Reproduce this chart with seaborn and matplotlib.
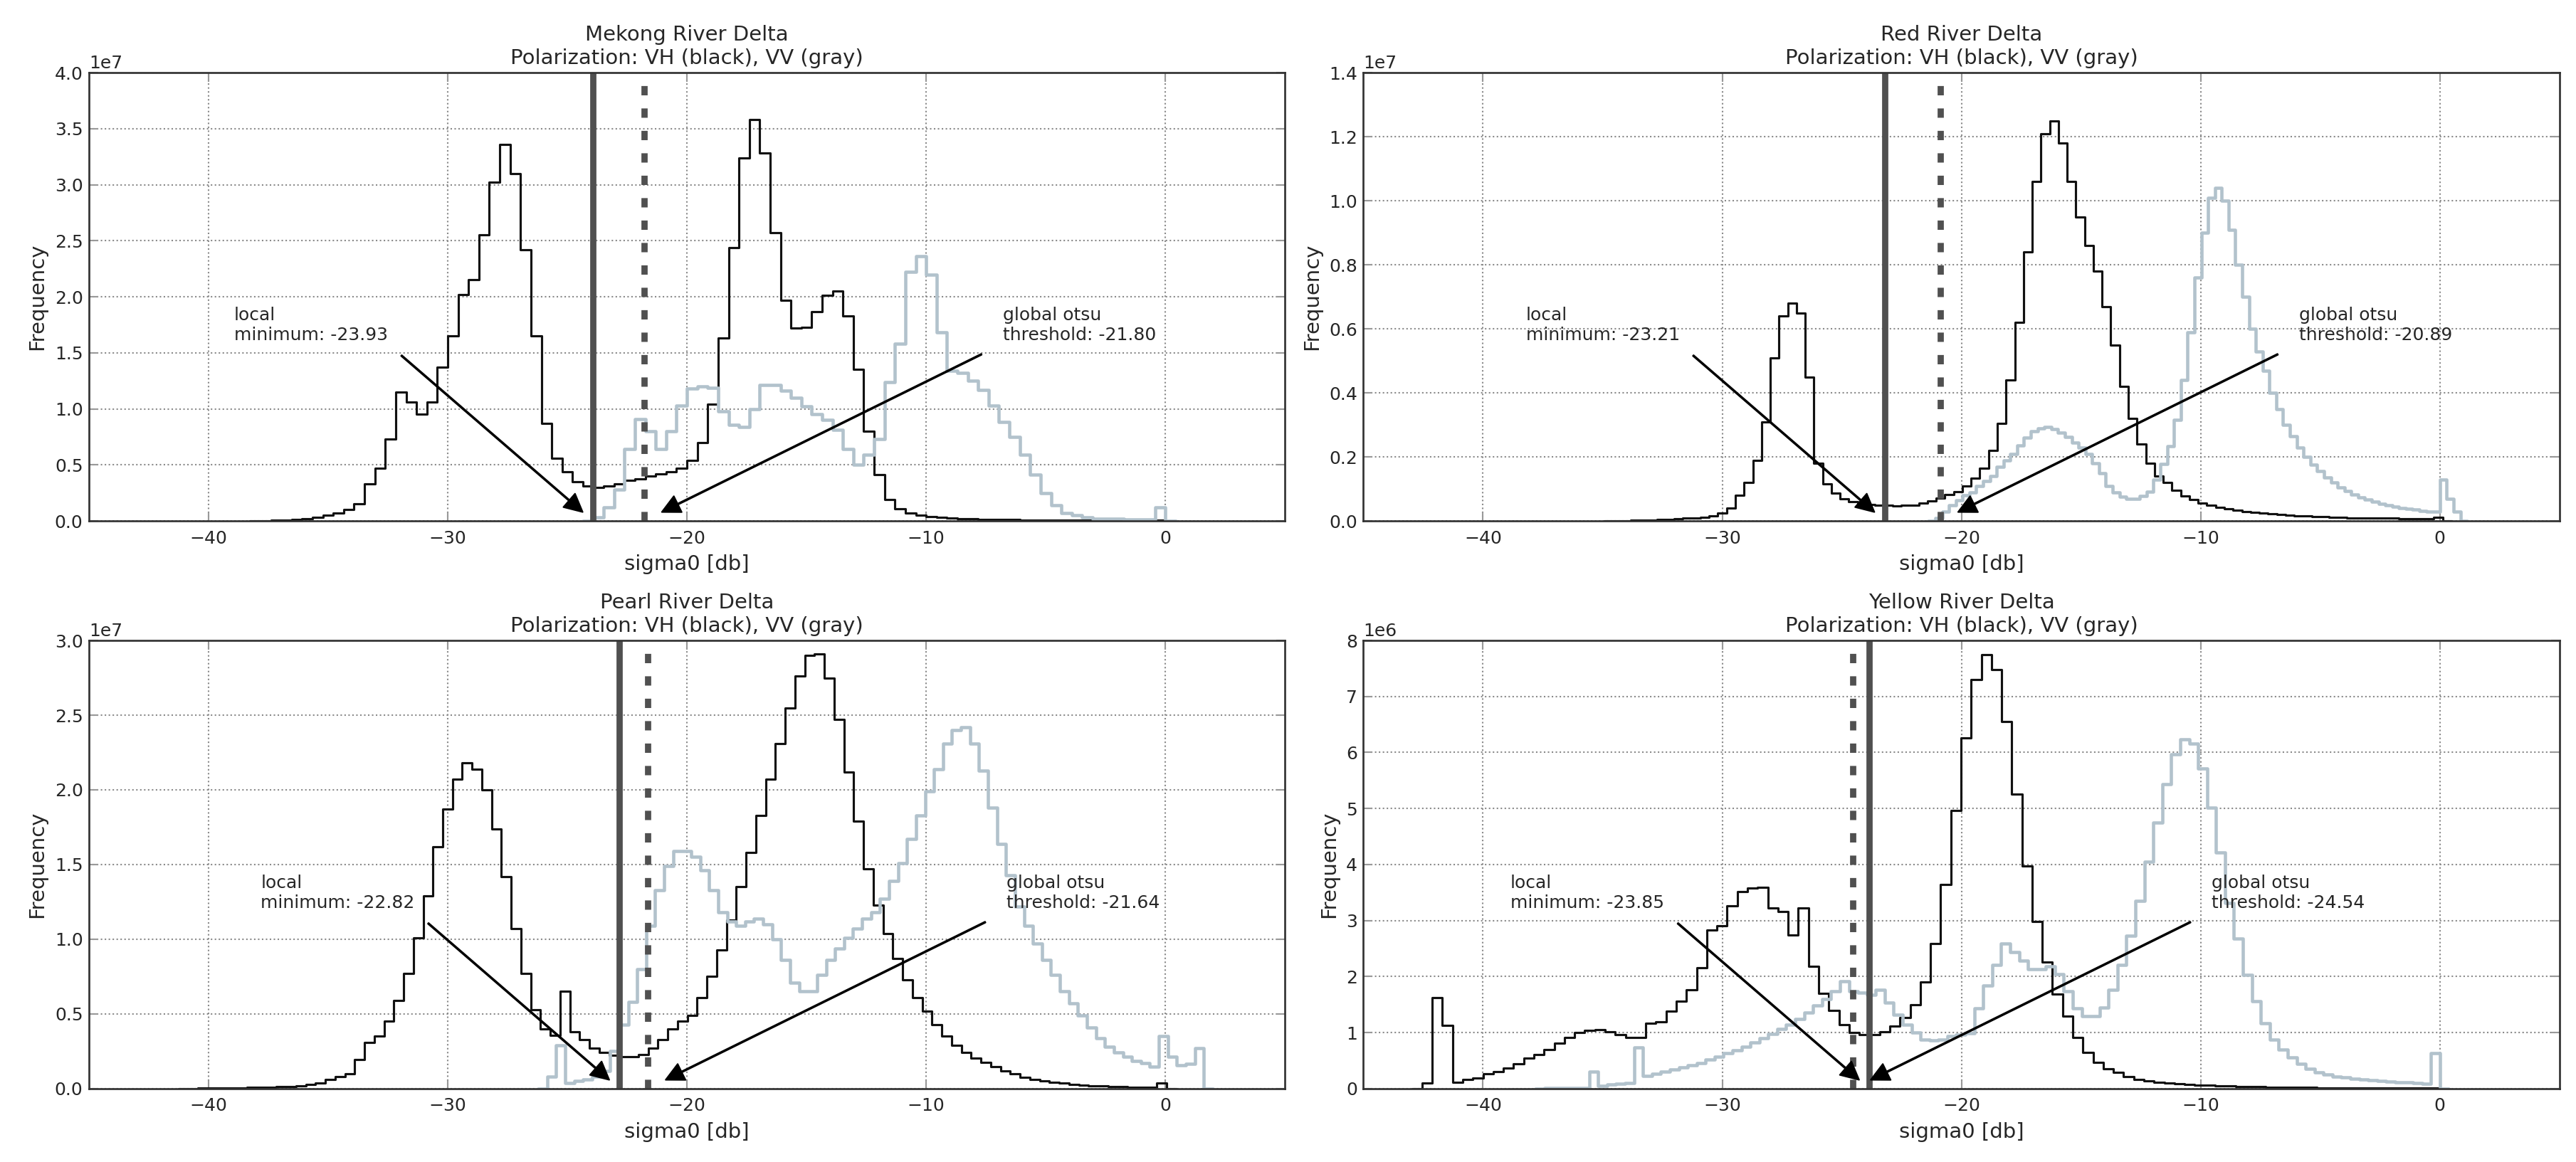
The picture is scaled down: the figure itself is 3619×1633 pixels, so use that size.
import numpy as np
import matplotlib
matplotlib.use("Agg")
import matplotlib.pyplot as plt
from matplotlib.ticker import MultipleLocator
import seaborn as sns

# ---------------- data (bin heights) ----------------
# Mekong River Delta (heights in units of 1e7)
mekong_scale = 1e7
mekong_vh_start, mekong_vh_width = -37.826, 0.43478
mekong_vh = [0.002, 0.004, 0.007, 0.01, 0.02, 0.03, 0.05, 0.07, 0.10, 0.15,
             0.33, 0.47, 0.73, 1.15, 1.06, 0.95, 1.06, 1.37, 1.65, 2.02,
             2.15, 2.55, 3.02, 3.36, 3.10, 2.42, 1.65, 0.87, 0.56, 0.44,
             0.35, 0.31, 0.30, 0.31, 0.33, 0.36, 0.375, 0.40, 0.42, 0.44,
             0.47, 0.54, 0.70, 1.04, 1.63, 2.44, 3.24, 3.58, 3.28, 2.57,
             1.97, 1.72, 1.73, 1.87, 2.01, 2.05, 1.83, 1.35, 0.80, 0.41,
             0.19, 0.11, 0.07, 0.05, 0.04, 0.03, 0.025, 0.02, 0.017, 0.015,
             0.013, 0.011, 0.01, 0.009, 0.008, 0.007, 0.006, 0.006, 0.005, 0.005,
             0.004, 0.004, 0.004, 0.003, 0.003, 0.003, 0.005]
mekong_vv_start, mekong_vv_width = -23.913, 0.43478
mekong_vv = [0.03, 0.12, 0.28, 0.64, 0.91, 0.80, 0.64, 0.80, 1.03, 1.18,
             1.20, 1.19, 0.98, 0.86, 0.84, 1.00, 1.21, 1.21, 1.16, 1.10,
             1.02, 0.95, 0.90, 0.81, 0.64, 0.50, 0.59, 0.73, 1.24, 1.58,
             2.22, 2.36, 2.20, 1.68, 1.34, 1.32, 1.25, 1.17, 1.03, 0.88,
             0.75, 0.59, 0.41, 0.25, 0.14, 0.07, 0.05, 0.03, 0.02, 0.02,
             0.02, 0.015, 0.01, 0.01, 0.12]
mekong_local_min, mekong_otsu = -23.93, -21.80

# Red River Delta (units of 1e7)
red_scale = 1e7
red_vh_start, red_vh_width = -34.56, 0.365
red_vh = [0.001, 0.001, 0.002, 0.002, 0.003, 0.004, 0.005, 0.006, 0.008, 0.010,
          0.012, 0.015, 0.024, 0.04, 0.08, 0.12, 0.19, 0.31, 0.51, 0.64,
          0.68, 0.65, 0.45, 0.18, 0.115, 0.087, 0.069, 0.06, 0.055, 0.051,
          0.049, 0.048, 0.047, 0.048, 0.05, 0.055, 0.063, 0.072, 0.083, 0.092,
          0.11, 0.133, 0.165, 0.22, 0.305, 0.44, 0.62, 0.84, 1.06, 1.21,
          1.25, 1.18, 1.06, 0.95, 0.86, 0.78, 0.67, 0.55, 0.42, 0.32,
          0.24, 0.18, 0.14, 0.12, 0.096, 0.078, 0.066, 0.055, 0.048, 0.042,
          0.037, 0.033, 0.030, 0.027, 0.024, 0.022, 0.020, 0.018, 0.016, 0.015,
          0.014, 0.013, 0.012, 0.011, 0.010, 0.010, 0.009, 0.009, 0.008, 0.008,
          0.007, 0.007, 0.006, 0.006, 0.012]
red_vv_start, red_vv_width = -21.09, 0.285
red_vv = [0.01, 0.03, 0.05, 0.065, 0.08, 0.09, 0.11, 0.125, 0.14, 0.17,
          0.19, 0.21, 0.235, 0.26, 0.28, 0.29, 0.294, 0.287, 0.276, 0.262,
          0.245, 0.23, 0.21, 0.18, 0.15, 0.11, 0.09, 0.075, 0.069, 0.069,
          0.078, 0.092, 0.128, 0.178, 0.233, 0.315, 0.44, 0.59, 0.76, 0.90,
          1.01, 1.04, 1.00, 0.91, 0.80, 0.70, 0.60, 0.53, 0.47, 0.40,
          0.35, 0.30, 0.265, 0.23, 0.20, 0.175, 0.155, 0.135, 0.12, 0.105,
          0.093, 0.083, 0.074, 0.066, 0.06, 0.054, 0.049, 0.045, 0.041, 0.038,
          0.035, 0.032, 0.03, 0.028, 0.13, 0.07, 0.03]
red_local_min, red_otsu = -23.21, -20.89

# Pearl River Delta (units of 1e7)
pearl_scale = 1e7
pearl_vh_start, pearl_vh_width = -40.842, 0.409
pearl_vh = [0.002, 0.003, 0.004, 0.005, 0.006, 0.006, 0.007, 0.008, 0.01, 0.012,
            0.015, 0.02, 0.03, 0.04, 0.06, 0.08, 0.10, 0.195, 0.31, 0.35,
            0.45, 0.59, 0.77, 1.01, 1.29, 1.62, 1.87, 2.07, 2.18, 2.14,
            2.00, 1.74, 1.42, 1.07, 0.77, 0.53, 0.40, 0.355, 0.65, 0.38,
            0.33, 0.27, 0.245, 0.225, 0.215, 0.215, 0.23, 0.27, 0.33, 0.40,
            0.45, 0.49, 0.61, 0.75, 0.93, 1.13, 1.35, 1.58, 1.83, 2.07,
            2.31, 2.55, 2.76, 2.90, 2.91, 2.75, 2.47, 2.12, 1.79, 1.47,
            1.23, 1.04, 0.87, 0.73, 0.61, 0.52, 0.43, 0.35, 0.29, 0.245,
            0.205, 0.175, 0.146, 0.117, 0.098, 0.078, 0.063, 0.052, 0.043, 0.036,
            0.03, 0.025, 0.021, 0.018, 0.015, 0.013, 0.011, 0.01, 0.009, 0.04]
pearl_vv_start, pearl_vv_width = -25.84, 0.376
pearl_vv = [0.08, 0.29, 0.04, 0.05, 0.06, 0.08, 0.12, 0.25, 0.43, 0.58,
            0.80, 1.09, 1.33, 1.49, 1.59, 1.59, 1.55, 1.46, 1.33, 1.18,
            1.12, 1.09, 1.12, 1.14, 1.10, 1.00, 0.86, 0.71, 0.65, 0.65,
            0.76, 0.86, 0.94, 1.01, 1.07, 1.14, 1.18, 1.27, 1.39, 1.51,
            1.67, 1.83, 1.99, 2.14, 2.31, 2.40, 2.42, 2.31, 2.13, 1.88,
            1.64, 1.43, 1.22, 1.09, 0.97, 0.86, 0.76, 0.65, 0.57, 0.49,
            0.41, 0.34, 0.28, 0.245, 0.215, 0.185, 0.17, 0.146, 0.35, 0.215,
            0.156, 0.166, 0.27]
pearl_local_min, pearl_otsu = -22.82, -21.64

# Yellow River Delta (units of 1e6)
yellow_scale = 1e6
yellow_vh_start, yellow_vh_width = -42.545, 0.425
yellow_vh = [0.10, 1.62, 1.13, 0.12, 0.16, 0.19, 0.26, 0.31, 0.37, 0.44,
             0.54, 0.61, 0.70, 0.81, 0.91, 1.00, 1.04, 1.05, 1.01, 0.96,
             0.91, 0.91, 1.17, 1.19, 1.38, 1.56, 1.77, 2.16, 2.83, 2.91,
             3.26, 3.52, 3.58, 3.59, 3.22, 3.16, 2.74, 3.23, 2.19, 1.70,
             1.40, 1.14, 1.00, 0.96, 0.96, 1.01, 1.12, 1.27, 1.50, 1.90,
             2.59, 3.64, 4.96, 6.26, 7.30, 7.74, 7.48, 6.55, 5.26, 3.98,
             2.99, 2.26, 1.69, 1.29, 0.91, 0.65, 0.47, 0.36, 0.29, 0.22,
             0.17, 0.14, 0.12, 0.10, 0.085, 0.075, 0.065, 0.057, 0.05, 0.044,
             0.04, 0.036, 0.032, 0.029, 0.026, 0.024, 0.022, 0.02, 0.018, 0.017,
             0.015, 0.014, 0.013, 0.012, 0.011, 0.01, 0.01, 0.009, 0.008, 0.008]
yellow_vv_start, yellow_vv_width = -37.43, 0.3743
yellow_vv = [0.01, 0.01, 0.01, 0.01, 0.01, 0.30, 0.05, 0.07, 0.09, 0.10,
             0.74, 0.23, 0.27, 0.30, 0.34, 0.38, 0.42, 0.46, 0.52, 0.57,
             0.63, 0.69, 0.75, 0.82, 0.90, 0.98, 1.06, 1.14, 1.25, 1.36,
             1.48, 1.60, 1.74, 1.92, 1.74, 1.72, 1.67, 1.76, 1.53, 1.32,
             1.14, 1.00, 0.88, 0.86, 0.87, 0.94, 0.96, 0.99, 1.43, 1.84,
             2.21, 2.59, 2.44, 2.29, 2.13, 2.13, 2.18, 2.04, 1.74, 1.43,
             1.30, 1.30, 1.45, 1.77, 2.21, 2.73, 3.35, 4.05, 4.75, 5.43,
             5.97, 6.23, 6.16, 5.72, 5.01, 4.21, 3.32, 2.68, 2.03, 1.56,
             1.17, 0.88, 0.70, 0.56, 0.45, 0.36, 0.29, 0.25, 0.22, 0.20,
             0.18, 0.165, 0.15, 0.14, 0.13, 0.12, 0.11, 0.10, 0.09, 0.63]
yellow_local_min, yellow_otsu = -23.85, -24.54

panel_names = ["Mekong River Delta", "Red River Delta",
               "Pearl River Delta", "Yellow River Delta"]
subtitle = "Polarization: VH (black), VV (gray)"
x_label = "sigma0 [db]"
y_label = "Frequency"
y_max = [4.0e7, 1.4e7, 3.0e7, 8.0e6]
y_step = [0.5e7, 0.2e7, 0.5e7, 1.0e6]

# ---------------- styling ----------------
sns.set_style("white")
plt.rcParams["font.family"] = ["DejaVu Sans"]
plt.rcParams["font.size"] = 12
plt.rcParams["axes.unicode_minus"] = True

VH_COLOR = "#111111"
VV_COLOR = "#b2c2cc"
VLINE_COLOR = "#505050"


def draw_hist(ax, start, width, counts, scale, color, lw):
    counts = np.asarray(counts, dtype=float) * scale
    n = len(counts)
    edges = start + width * np.arange(-1, n + 2)
    weights = np.concatenate([[0.0], counts, [0.0]])
    centers = (edges[:-1] + edges[1:]) / 2.0
    sns.histplot(x=centers, weights=weights, bins=[float(e) for e in edges],
                 element="step", fill=False, color=color, linewidth=lw, ax=ax)


panels = [
    (mekong_vh_start, mekong_vh_width, mekong_vh, mekong_vv_start, mekong_vv_width,
     mekong_vv, mekong_scale, mekong_local_min, mekong_otsu),
    (red_vh_start, red_vh_width, red_vh, red_vv_start, red_vv_width,
     red_vv, red_scale, red_local_min, red_otsu),
    (pearl_vh_start, pearl_vh_width, pearl_vh, pearl_vv_start, pearl_vv_width,
     pearl_vv, pearl_scale, pearl_local_min, pearl_otsu),
    (yellow_vh_start, yellow_vh_width, yellow_vh, yellow_vv_start, yellow_vv_width,
     yellow_vv, yellow_scale, yellow_local_min, yellow_otsu),
]

fig, axes = plt.subplots(2, 2, figsize=(3619 / 150, 1633 / 150), dpi=150)
fig.subplots_adjust(left=0.0345, right=0.9936, bottom=0.0631, top=0.9375,
                    wspace=0.0655, hspace=0.2667)

for i, ax in enumerate(axes.flat):
    (vh_s, vh_w, vh, vv_s, vv_w, vv, scale, lmin, otsu) = panels[i]
    ymax = y_max[i]
    ax.set_axisbelow(True)
    ax.grid(True, linestyle=":", color="#8a8a8a", linewidth=1.0)

    draw_hist(ax, vh_s, vh_w, vh, scale, VH_COLOR, 1.5)
    draw_hist(ax, vv_s, vv_w, vv, scale, VV_COLOR, 2.2)

    ax.axvline(lmin, color=VLINE_COLOR, linewidth=4.2, linestyle="-")
    ax.axvline(otsu, color=VLINE_COLOR, linewidth=4.2,
               linestyle=(0, (1.5, 2.1)))

    arrow = dict(facecolor="black", edgecolor="black", shrink=0.05,
                 width=0.7, headwidth=12, headlength=12)
    ax.annotate("local\nminimum: %.2f" % lmin, xy=(lmin, 0),
                xytext=(lmin - 15, 0.395 * ymax), ha="left", va="bottom",
                fontsize=12, arrowprops=arrow)
    ax.annotate("global otsu\nthreshold: %.2f" % otsu, xy=(otsu, 0),
                xytext=(otsu + 15, 0.395 * ymax), ha="left", va="bottom",
                fontsize=12, arrowprops=arrow)

    ax.set_xlim(-45, 5)
    ax.set_ylim(0, ymax)
    ax.xaxis.set_major_locator(MultipleLocator(10))
    ax.yaxis.set_major_locator(MultipleLocator(y_step[i]))
    ax.set_title(panel_names[i] + "\n" + subtitle, fontsize=14)
    ax.set_xlabel(x_label, fontsize=14, labelpad=5)
    ax.set_ylabel(y_label, fontsize=14, labelpad=5)
    ax.tick_params(direction="in", length=6, width=1, color="#999999",
                   labelsize=12, top=True, right=True, bottom=True, left=True)
    ax.tick_params(axis="x", pad=6)
    ax.tick_params(axis="y", pad=4)
    ax.yaxis.get_offset_text().set_fontsize(12)
    for sp in ax.spines.values():
        sp.set_visible(True)
        sp.set_color("#333333")
        sp.set_linewidth(1.3)

fig.savefig("out.png", dpi=150)
